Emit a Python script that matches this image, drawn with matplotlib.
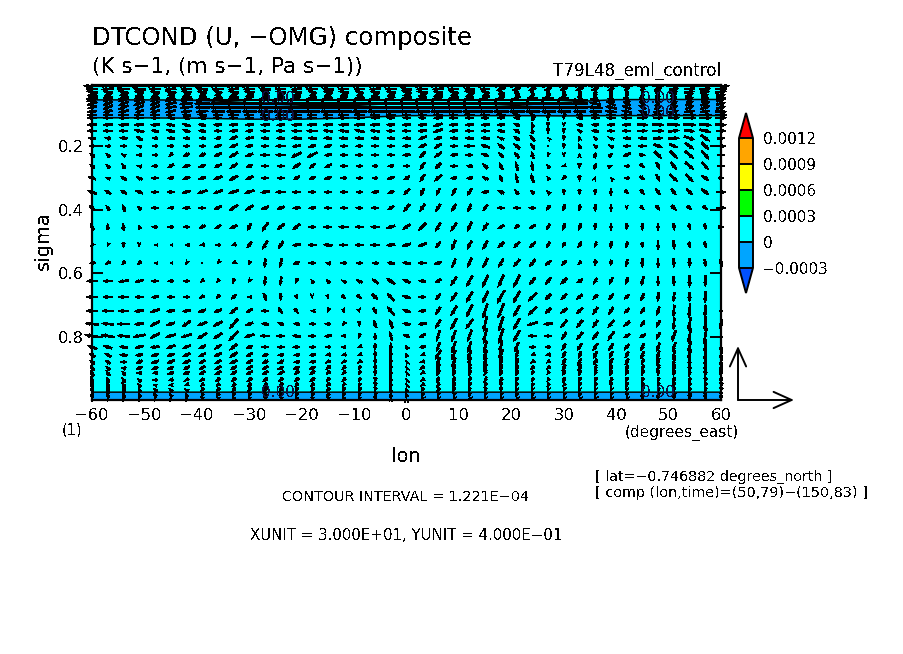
import numpy as np
import matplotlib
matplotlib.use("Agg")
import matplotlib.pyplot as plt
from matplotlib.colors import ListedColormap, BoundaryNorm

plt.rcParams['text.antialiased'] = False
plt.rcParams['font.family'] = ['DejaVu Sans']

W_PX, H_PX = 904, 654
LEFT, RIGHT, TOP, BOTTOM = 92, 721, 85, 400
XUNIT, YUNIT = 30.0, 0.4

lon = list(range(-60, 61, 3))
sigma = [.009,.019,.028,.038,.047,.054,.065,.077,.090,.101,.110,.132,.151,.174,.199,.227,.262,.300,.344,.394,
         .454,.511,.568,.625,.675,.719,.760,.798,.833,.858,.880,.899,.915,.937,.953,.968,.984,.997]

# vector components (1 unit = XUNIT/56 m/s, YUNIT/54 Pa/s)
U = [
[-14,-15,-15,-16,-16,-15,-16,-16,-16,-15,-16,-16,-15,-16,-16,-16,-16,-16,-15,-16,-16,-16,-16,-16,-15,-16,-15,-15,-14,-14,-13,-12,-12,-11,-10,-9,10,12,13,13,14],
[-10,-10,-10,-10,-9,-9,-9,-9,-9,-9,-9,-9,-9,-9,-9,-9,-9,-9,-9,-9,-9,-9,-9,-9,-8,-8,-7,-7,-6,-6,-6,-6,-6,-5,-4,-3,6,8,9,9,10],
[-9,-8,-9,-8,-8,-9,-8,-8,-7,-8,-8,-7,-8,-8,-7,-8,-8,-7,-8,-8,-8,-9,-8,-8,-8,-7,-6,-4,-3,-3,-3,-2,-2,-2,-2,-2,4,7,8,8,9],
[-8,-6,-7,-6,-5,-6,-6,-5,-5,-6,-6,-5,-6,-6,-5,-6,-6,-5,-6,-6,-6,-6,-7,-6,-6,-5,-4,-3,-2,-2,-2,-2,-2,-2,-1,-1,3,5,6,6,8],
[-9,-8,-8,-8,-7,-7,-8,-7,-7,-8,-7,-8,-7,-7,-8,-7,-7,-8,-8,-7,-8,-7,-8,-8,-7,-7,-6,-6,-9,-9,-8,-4,-3,-2,-2,-2,4,5,6,6,8],
[-9,-8,-9,-8,-8,-9,-10,-12,-13,-13,-14,-14,-15,-15,-14,-15,-15,-14,-15,-15,-14,-15,-15,-14,-14,-15,-15,-14,-14,-15,-14,-14,-8,-6,-5,-5,3,5,5,6,7],
[-8,-8,-8,-9,-8,-9,-11,-13,-14,-15,-15,-14,-15,-16,-15,-16,-15,-15,-16,-15,-15,-16,-15,-15,-16,-15,-16,-16,-15,-15,-14,-13,-9,-7,-6,-5,5,6,6,7,8],
[-7,-8,-8,-7,-8,-9,-10,-12,-14,-15,-15,-16,-16,-16,-15,-16,-16,-16,-16,-15,-15,-16,-16,-15,-14,-15,-15,-16,-16,-15,-14,-14,-12,-9,-7,-6,6,7,7,8,8],
[-8,-7,-8,-7,-8,-8,-9,-10,-11,-12,-12,-13,-13,-14,-13,-13,-14,-13,-13,-14,-14,-13,-13,-14,-13,-13,-13,-13,-12,-12,-11,-11,-10,-9,-8,-7,7,8,8,8,9],
[-8,-8,-8,-8,-7,-7,-7,-7,-8,-8,-8,-8,-8,-8,-8,-8,-9,-8,-8,-8,-7,-7,-7,-7,-8,-8,-7,-6,-4,-2,-2,-5,-6,-7,-8,8,9,10,10,10,10],
[-8,-8,-8,-8,-7,-6,-5,-6,-7,-7,-7,-7,-8,-8,-8,-8,-8,-8,-7,-7,-6,-6,-7,-7,-7,-6,-6,-5,-1,0,0,-5,-7,-7,-8,8,8,9,10,10,9],
[-8,-8,-8,-8,-7,-7,-7,-6,-7,-7,-7,-7,-7,-8,-8,-8,-8,-9,-8,-7,-7,-7,-7,-7,-7,-7,-6,-5,-1,0,0,-5,-6,-6,-7,9,10,10,10,10,9],
[-8,-8,-7,-8,-6,-7,-6,-6,-6,-6,-6,-7,-7,-8,-9,-8,-8,-8,-8,-7,-7,-7,-8,-7,-7,-7,-6,-5,-1,0,0,-4,-6,-6,-7,8,9,9,9,9,8],
[-6,-5,-6,-5,-4,-6,-5,-5,-5,-6,-7,-6,-7,-8,-7,-7,-7,-7,-6,-6,-6,-7,-6,-6,-7,-7,-5,-5,-4,-1,0,-1,-3,-5,-6,-7,8,9,9,7,6],
[-5,-4,-5,-4,-4,-5,-5,-5,-6,-7,-6,-6,-8,-7,-6,-6,-6,-6,-6,-6,-6,-6,-6,-6,-8,-7,-5,-5,-3,0,0,-2,-3,-4,-6,-7,7,7,7,6,8],
[-4,-3,-3,-4,-4,-3,-5,-5,-6,-7,-6,-7,-8,-8,-8,-6,-6,-6,-6,-6,-6,-5,-6,-6,-6,-6,-4,-4,-2,-1,0,0,1,3,-6,5,6,6,7,6,6],
[-4,-3,-3,-4,-5,-5,-6,-6,-6,-6,-5,-6,-6,-6,-5,-6,-6,-5,-5,-5,-5,-4,-5,-6,-5,-4,-3,-2,-1,-3,-3,0,2,2,-4,4,3,5,7,5,6],
[-6,-4,-5,-5,-6,-5,-6,-6,-7,-7,-6,-6,-6,-5,-5,-6,-5,-5,-5,-6,-5,-4,-6,-5,-5,-5,-2,-2,-2,-2,-3,0,1,-1,-4,4,3,6,6,6,5],
[-7,-5,-5,-6,-6,-6,-7,-8,-8,-8,-8,-7,-8,-7,-6,-6,-6,-5,-6,-5,-5,-3,-3,-3,-4,-6,-5,-3,-3,-2,0,0,0,0,3,3,4,4,5,6,8],
[-5,-3,-2,-3,-6,-5,-6,-6,-6,-7,-6,-6,-6,-6,-6,-6,-6,-6,-6,-5,-5,-4,-4,-4,-3,-4,-6,-6,-6,-3,-2,-1,0,0,0,3,3,4,4,4,8],
[-3,0,-1,-2,-5,-5,-5,-5,-5,-6,-3,-5,-6,-6,-6,-7,-8,-7,-7,-7,-6,-6,-4,-5,-4,-4,-5,-4,-5,-3,-2,-2,0,0,0,0,0,1,1,1,4],
[-2,-1,0,0,-1,-1,-2,-4,-4,-4,-4,-4,-4,-7,-7,-7,-7,-7,-7,-7,-7,-7,-4,-3,-4,-4,-5,-5,-5,-3,-2,-3,-2,-1,-1,0,0,1,1,1,0],
[-5,-4,-3,-3,-1,-1,-1,0,-1,-2,-2,-1,-2,-5,-6,-4,-5,-5,-5,-6,-7,-7,-6,-3,-4,-4,-4,-5,-5,-5,-4,-3,-1,-1,-1,0,0,0,0,1,2],
[-9,-8,-8,-7,-6,-5,-5,-3,-2,-1,-1,-1,-1,-2,-2,-3,-4,-5,-5,-7,-6,-6,-5,-5,-5,-5,-5,-5,-5,-5,-5,-5,-3,-3,-2,-2,0,0,0,0,0],
[-9,-8,-8,-7,-6,-6,-5,-4,-3,-4,-3,2,0,1,0,1,3,4,5,-6,-7,-6,-4,-5,-5,-5,-6,-6,-7,-5,-5,-5,-4,-4,-4,-3,-1,-1,0,0,0],
[-10,-9,-8,-8,-8,-7,-7,-6,-6,-6,-5,-6,3,3,-2,-1,1,1,3,-6,-6,-6,-4,-5,-5,-4,-5,-5,-7,-5,-5,-5,-4,-4,-4,-3,-2,-1,-1,-1,0],
[-11,-10,-10,-8,-8,-7,-7,-8,-7,-7,-6,-6,-5,-5,-5,-5,-2,0,-2,-3,-6,-7,-4,-5,-6,-3,-4,-5,-9,-7,-5,-5,-4,-5,-5,-3,-3,-1,-2,-1,-2],
[-12,-11,-10,-10,-8,-8,-9,-8,-7,-8,-8,-8,-7,-7,-6,-6,-4,-1,-1,-2,-5,-5,-3,-3,-4,-3,-4,-5,-7,-6,-4,-5,-5,-5,-5,-5,-3,-3,-2,-2,0],
[-8,-7,-7,-7,-7,-7,-7,-6,-6,-6,-5,-6,-6,-6,-5,-4,-4,-3,-1,0,-2,-5,-3,-3,-3,-3,-2,-3,-5,-5,-3,-4,-4,-4,-4,-3,-3,-3,-2,-1,0],
[-5,-5,-6,-6,-6,-6,-6,-6,-6,-6,-5,-5,-5,-5,-5,-4,-4,-3,-1,0,-1,-3,-5,-3,-3,-3,-3,-2,-2,-4,-3,-2,-3,-3,-3,-3,-2,-2,-2,-1,-1],
[-4,-4,-5,-5,-6,-6,-6,-5,-5,-6,-5,-5,-5,-5,-5,-4,-4,-3,-1,0,-1,-4,-3,-3,-2,-2,-2,-2,-3,-3,-3,-3,-3,-3,-3,-2,-2,-2,-1,-1,-1],
[-3,-3,-4,-5,-5,-5,-5,-5,-5,-5,-5,-5,-5,-5,-5,-4,-3,-2,-1,0,-1,-4,-3,-2,-2,-2,-2,-2,-3,-3,-3,-3,-2,-2,-2,-2,-2,-1,-1,-1,-1],
[-3,-3,-3,-4,-4,-5,-5,-5,-5,-5,-5,-5,-5,-4,-4,-3,-3,-2,-1,0,-1,-3,-3,-2,-2,-2,-2,-2,-2,-2,-2,-2,-2,-2,-2,-2,-1,-1,-1,-1,-1],
[-2,-2,-3,-3,-4,-4,-4,-4,-4,-4,-4,-4,-4,-4,-4,-3,-3,-2,-1,0,-1,-3,-2,-2,-2,-2,-2,-2,-2,-2,-2,-2,-2,-2,-2,-1,-1,-1,-1,-1,-1],
[-2,-2,-3,-3,-3,-3,-3,-3,-3,-3,-3,-3,-3,-3,-3,-3,-2,-2,-1,0,-1,-3,-2,-2,-2,-2,-1,-1,-2,-2,-2,-2,-2,-1,-1,-1,-1,-1,-1,-1,-1],
[-1,-2,-2,-2,-3,-3,-3,-3,-3,-3,-3,-3,-3,-2,-2,-2,-2,-2,-1,0,-1,-2,-2,-1,-1,-1,-1,-1,-1,-1,-1,-1,-1,-1,-1,-1,-1,-1,-1,-1,-1],
[-1,-1,-2,-2,-2,-2,-2,-2,-2,-2,-2,-2,-2,-2,-2,-2,-1,-1,-1,0,-1,-2,-1,-1,-1,-1,-1,-1,-1,-1,-1,-1,-1,-1,-1,-1,-1,-1,-1,0,0],
[-1,-1,-1,-1,-1,-1,-1,-1,-1,-1,-1,-1,-1,-1,-1,-1,-1,-1,0,0,0,-1,-1,-1,-1,-1,-1,-1,-1,-1,-1,-1,-1,-1,-1,0,0,0,0,0,0],
]
W = [
[0,0,0,0,0,0,0,0,0,0,0,0,0,0,0,0,0,0,0,0,0,0,0,0,0,0,0,0,0,0,0,0,0,0,0,0,0,0,0,0,0],
[0,-1,0,1,0,-1,0,1,0,-1,0,1,0,-1,0,1,0,0,-1,0,1,0,-1,0,1,0,-2,-2,-2,-2,-2,-2,-2,-2,-2,-2,2,1,0,1,0],
[1,1,2,1,1,2,1,1,2,1,1,2,1,1,2,1,1,2,1,1,2,1,1,2,1,2,3,5,6,6,6,6,5,5,6,6,3,1,1,1,1],
[-1,-2,-1,-2,-2,-1,-2,-2,-1,-2,-2,-1,-2,-2,-1,-2,-2,-1,-2,-2,-1,-2,-2,-1,-2,-2,3,5,6,6,6,6,6,6,6,6,4,2,2,1,1],
[-2,-1,-2,-1,-1,-2,-1,-2,-1,-1,-2,-1,-1,-2,-1,-1,-2,-1,-1,-2,-1,-1,-2,-1,-1,-2,-2,-2,0,0,0,3,3,4,4,4,3,2,1,1,0],
[-3,-2,-3,-2,-3,-2,-1,-1,0,0,0,0,0,0,0,0,0,0,0,0,0,0,0,0,0,0,0,0,0,0,0,0,2,3,4,4,5,4,4,3,2],
[-3,-3,-3,-3,-3,-2,-1,0,0,0,0,0,0,0,0,0,0,0,0,0,0,0,0,0,0,0,0,0,0,0,0,0,2,3,3,3,4,4,3,3,2],
[-2,-3,-3,-3,-3,-2,-1,0,0,0,0,0,0,0,0,0,0,0,0,0,0,0,0,0,1,1,0,0,0,0,0,0,1,2,3,3,3,3,3,3,2],
[-1,-2,-2,-2,-2,-2,-1,-1,0,0,0,0,0,0,0,0,0,0,0,0,0,0,0,0,0,0,0,0,0,0,0,0,0,1,2,2,2,2,1,1,0],
[0,0,0,0,0,0,1,1,0,0,0,0,0,0,0,0,0,0,0,0,0,0,0,0,0,0,1,2,4,-3,-3,1,0,0,0,0,0,0,0,0,0],
[0,0,0,0,0,1,2,1,0,0,0,0,0,0,0,0,0,0,0,0,0,0,-1,0,0,0,0,1,4,-4,-3,1,0,0,0,0,0,0,0,0,0],
[0,0,0,0,0,1,2,1,0,0,0,0,-1,0,0,0,0,0,0,0,0,-1,-2,0,0,0,0,2,4,-4,-3,1,0,0,0,0,0,0,0,-1,0],
[0,0,0,2,1,2,2,1,0,-1,-1,0,0,0,0,1,1,2,1,0,0,-1,-3,-1,0,0,1,3,5,-4,-4,2,1,0,0,0,0,1,-1,-2,0],
[0,1,1,3,0,0,0,0,-1,-3,-1,0,0,0,0,0,0,0,0,0,0,-3,-2,0,0,1,2,3,5,1,-4,3,3,2,0,0,0,0,-3,-5,0],
[0,0,0,1,0,0,0,0,-2,-3,-1,0,0,-1,-2,-2,0,0,0,0,0,-3,-4,0,0,2,4,4,5,0,-4,4,3,2,0,0,-3,-3,-5,-6,0],
[3,3,2,0,0,-3,-2,-2,-3,-4,-2,0,0,-4,-4,-1,0,0,0,0,-1,-5,-4,-1,0,2,4,5,6,-3,-3,3,5,3,-3,-1,-6,-6,-6,-7,0],
[3,3,4,1,0,-3,-2,-2,-3,-4,-2,0,0,-4,-4,-3,0,0,0,-1,0,-6,-5,0,1,4,6,7,7,3,-1,-4,5,1,0,-3,-6,-6,-6,-6,0],
[2,1,3,2,0,-1,-2,-2,-3,-4,-3,0,0,-3,-2,-2,0,0,0,-2,-3,-6,-5,-1,-1,2,5,7,7,3,-3,-5,3,1,0,-3,-6,-6,-6,-4,0],
[3,3,3,2,0,0,-2,-3,-3,-3,-3,-1,0,0,0,0,0,0,-1,-2,-5,-6,-6,-6,-6,-1,2,4,3,2,-5,-5,-5,-6,-3,-4,-5,-5,-5,-5,0],
[4,4,6,3,0,-1,-1,0,-3,-5,-4,-2,-2,-1,-1,0,0,0,0,-3,-6,-6,-6,-6,-6,-5,0,0,0,-4,-5,-5,-6,-6,-3,-3,-4,-4,-3,-3,0],
[5,5,6,3,0,0,0,-2,-3,-3,-6,-7,-5,-5,0,0,0,0,0,-2,-4,-6,-7,-7,-8,-6,-3,-3,-3,-5,-6,-6,-5,-6,-5,-6,-6,-6,-5,-5,0],
[-2,-3,-5,-3,0,0,0,-1,0,-1,-5,-7,-6,-1,0,1,0,0,0,-1,-2,-3,-5,-8,-7,-7,-5,-5,-5,-5,-4,-5,-5,-6,-5,-5,-8,-7,-5,-5,0],
[-1,-2,-3,-3,0,0,-2,0,-1,-1,-3,-7,-7,-2,0,1,0,0,1,1,1,0,-2,-7,-8,-8,-7,-6,-6,-4,-4,-3,-5,-5,-6,-7,-8,-7,-7,-6,-6],
[0,0,-1,-2,0,0,0,-2,-3,-4,-2,-7,-7,-4,3,3,2,2,4,5,3,1,-3,-7,-9,-10,-10,-10,-6,-6,-5,-3,-5,-6,-6,-8,-8,-8,-10,-9,0],
[0,0,0,0,-1,0,0,-2,-3,-4,0,-6,-6,-3,-2,-3,-3,-3,-5,6,2,0,-5,-7,-9,-10,-11,-10,-7,-5,-5,-4,-4,-5,-4,-6,-7,-8,-8,-10,0],
[0,0,0,-1,-3,-1,-1,-2,-2,-5,-3,0,-5,-4,0,-2,-3,-3,-5,7,2,-1,-6,-8,-10,-12,-12,-9,-7,-5,-4,-5,-6,-6,-4,-5,-7,-10,-12,-10,-6],
[1,1,0,-1,-4,-2,-5,-3,-4,-8,-2,1,2,1,0,0,-3,-4,6,7,1,-1,-7,-9,-8,-13,-12,-9,-3,-1,-6,-6,-6,-6,-4,-5,-6,-10,-11,-12,-8],
[2,2,1,-2,-4,-2,-3,-5,-5,-8,-3,0,0,1,0,-1,0,-4,5,7,2,-3,-9,-9,-10,-12,-12,-9,0,0,-6,-6,-6,-7,-3,-3,-6,-9,-12,-13,-8],
[3,2,1,-2,-1,-3,-3,-3,-4,-5,-2,0,0,0,0,0,0,-1,-5,7,3,-1,-8,-9,-9,-10,-11,-8,0,0,-5,-6,-6,-6,-5,-6,-7,-8,-10,-11,-8],
[3,3,1,-1,-2,-2,-3,-3,-3,-4,-3,-2,-1,-1,-1,-1,-1,-1,-5,8,3,-1,-8,-8,-8,-8,-9,-7,-1,-1,-5,-6,-6,-6,-5,-6,-7,-8,-9,-10,-8],
[3,3,0,-2,-2,-3,-3,-3,-3,-3,-3,-2,-2,-1,-1,-2,-2,-2,-5,8,2,-1,-7,-7,-7,-7,-7,-6,-2,-2,-5,-6,-5,-6,-5,-5,-6,-7,-8,-8,-8],
[4,3,1,-2,-2,-2,-3,-3,-3,-3,-3,-3,-2,-2,-2,-3,-3,-3,-5,8,2,-2,-6,-6,-6,-6,-6,-5,-3,-3,-5,-5,-5,-5,-5,-5,-5,-6,-7,-7,-7],
[5,4,3,0,-1,-2,-2,-3,-3,-3,-3,-3,-3,-3,-3,-3,-3,-3,-5,7,2,-2,-5,-5,-5,-5,-5,-5,-3,-3,-4,-5,-5,-5,-4,-5,-5,-5,-6,-6,-6],
[6,5,4,2,0,-1,-2,-2,-3,-3,-3,-3,-3,-3,-3,-3,-3,-3,-4,7,2,-2,-5,-5,-5,-5,-4,-4,-3,-3,-4,-4,-4,-4,-4,-4,-4,-5,-5,-5,-5],
[6,6,5,3,1,0,-1,-2,-2,-3,-3,-3,-3,-3,-3,-3,-3,-3,-4,6,2,-2,-4,-4,-4,-4,-4,-4,-3,-3,-3,-4,-4,-4,-4,-4,-4,-4,-4,-4,-4],
[6,6,5,4,3,3,2,-3,-3,-4,-4,-4,-4,-4,-4,-4,-4,-4,-4,5,3,-3,-4,-4,-4,-4,-4,-3,-3,-3,-3,-3,-3,-3,-3,-3,-4,-4,-4,-4,-4],
[5,5,5,4,4,3,3,-4,-4,-4,-4,-4,-4,-4,-4,-4,-4,-4,-4,5,3,-3,-3,-3,-3,-3,-3,-3,-3,-3,-3,-3,-3,-3,-3,-3,-3,-3,-3,-3,-3],
[3,3,3,3,3,3,3,-3,-3,-3,-3,-3,-3,-3,-3,-3,-3,-3,-3,3,2,-2,-2,-2,-2,-2,-2,-2,-2,-2,-2,-2,-2,-2,-2,-2,-2,-2,-2,-2,-2],
]

# shaded DTCOND field (units of 1e-4 K/s) on a coarse lon / sigma grid
f_lon = [-60,-50,-40,-30,-20,-10,0,10,20,30,40,50,60]
f_sigma = [.006,.038,.047,.057,.066,.076,.085,.098,.107,.113,.125,.95,.972,.978,.99,1.0]
f_val = [
[1,1,1,1,1,1,1,1,1,1,1,1,1],
[1,1,1,1,1,1,1,1,1,1,1,1,1],
[.5,.5,.5,.5,.5,.5,.5,.5,.5,.5,.5,.5,.5],
[-.3,-.3,-.2,.3,.4,.4,.4,.4,.4,.3,-.4,-.5,-.5],
[-.5,-.5,-.4,-.2,.3,.3,.3,.3,.3,-.3,-.5,-.5,-.5],
[-1,-1,-1,-.6,-.4,-.3,.2,.2,-.2,-.5,-1,-1,-1],
[-1,-1,-1,-1,-1,-1,-1,-1,-1,-1,-1,-1,-1],
[-1,-1,-1,-1,-1,-1,-.6,-.6,-.6,-.7,-.6,-.6,-.6],
[-.3,-.3,-.4,-.5,-.5,-.3,.5,.5,.5,.4,.5,.5,.5],
[.4,.3,.2,-.1,-.1,.3,.8,.8,.8,.8,.8,.8,.8],
[1,1,1,1,1,1,1,1,1,1,1,1,1],
[1,1,1,1,1,1,1,1,1,1,1,1,1],
[.6,.6,.6,.6,.6,.6,.6,.6,.6,.6,.6,.6,.6],
[-.5,-.5,-.5,-.5,-.5,-.5,-.5,-.5,-.5,-.5,-.5,-.5,-.5],
[-1,-1,-1,-1,-1,-1,-1,-1,-1,-1,-1,-1,-1],
[-1,-1,-1,-1,-1,-1,-1,-1,-1,-1,-1,-1,-1],
]
levels = [-3, 0, 3, 6, 9, 12]
level_labels = ['-0.0003', '0', '0.0003', '0.0006', '0.0009', '0.0012']
x_ticks = list(range(-60, 61, 10))
y_ticks = [0.2, 0.4, 0.6, 0.8]
label_spots = [(-24.5, .050), (-24.5, .107), (48, .050), (48, .092), (-24.5, .975), (48, .975)]

def box(l, t, r, b):
    return [l / W_PX, 1 - b / H_PX, (r - l) / W_PX, (b - t) / H_PX]

def ftext(px, py, s, size, **kw):
    kw.setdefault('va', 'center')
    fig.text(px / W_PX, 1 - py / H_PX, s, fontsize=size, color='black', **kw)

fig = plt.figure(figsize=(W_PX / 100, H_PX / 100), dpi=100, facecolor='white')
ax = fig.add_axes(box(LEFT, TOP, RIGHT, BOTTOM))

cmap = ListedColormap(['#00A5FF', '#00FFFF', '#00FF00', '#FFFF00', '#FFA500'])
cmap.set_under('#0050FF')
cmap.set_over('#FF0000')
norm = BoundaryNorm(levels, cmap.N)
cf = ax.contourf(f_lon, f_sigma, f_val, levels=levels, cmap=cmap, norm=norm, extend='both', antialiased=False)
ax.contour(f_lon, f_sigma, f_val, levels=[0], colors='black', linewidths=1.1)

LON, SIG = np.meshgrid(lon, sigma)
ax.quiver(LON, SIG, np.array(U, float), np.array(W, float), angles='uv', scale_units='dots', scale=0.85,
          units='dots', width=1.7, headwidth=1.9, headlength=2.6, headaxislength=2.3, minshaft=0.4, minlength=0.4,
          pivot='mid', color='black', clip_on=False, zorder=3, antialiased=False)

for x, y in label_spots:
    ax.text(x, y, '0.00', fontsize=11, ha='center', va='center', color='#101040', zorder=4)

ax.set_xlim(-60, 60)
ax.set_ylim(1.0, 0.0063)
ax.set_xticks(x_ticks)
ax.set_xticklabels([str(v).replace('-', '\u2212') for v in x_ticks], fontsize=11.8)
ax.set_yticks(y_ticks)
ax.set_yticklabels([str(v) for v in y_ticks], fontsize=11.8)
ax.tick_params(axis='x', length=0, pad=6)
ax.tick_params(axis='y', direction='in', length=8, width=1.4, left=True, right=True, pad=6)
for s in ax.spines.values():
    s.set_linewidth(1.6)

cax = fig.add_axes(box(739, 113, 753, 293))
cb = fig.colorbar(cf, cax=cax, extend='both', extendfrac=25 / 129, drawedges=True, spacing='uniform')
cb.set_ticks(levels)
cb.set_ticklabels([s.replace('-', '\u2212') for s in level_labels], fontsize=11)
cb.ax.tick_params(length=0, pad=7)
cb.outline.set_linewidth(1.4)
cb.dividers.set_linewidth(1.4)

# reference vector, lengths are one XUNIT and one YUNIT
for dx, dy in [(56, 0), (0, 54)]:
    ax.annotate('', xy=(738 + dx, H_PX - 400 + dy), xytext=(738, H_PX - 400),
                xycoords='figure pixels', textcoords='figure pixels', annotation_clip=False,
                arrowprops=dict(arrowstyle='->,head_length=1.0,head_width=0.45', lw=1.4, color='black',
                                shrinkA=0, shrinkB=0, mutation_scale=13))

ftext(92, 38, 'DTCOND (U, \u2212OMG) composite', 17.6)
ftext(92, 67, '(K s\u22121, (m s\u22121, Pa s\u22121))', 15.5)
ftext(721, 71, 'T79L48_eml_control', 12.1, ha='right')
ftext(43, 241, 'sigma', 14, rotation=90, ha='center')
ftext(62, 430, '(1)', 10.5)
ftext(406, 457, 'lon', 14, ha='center')
ftext(625, 433, '(degrees_east)', 11)
ftext(595, 477, '[ lat=\u22120.746882 degrees_north ]', 10.3)
ftext(595, 493, '[ comp (lon,time)=(50,79)\u2212(150,83) ]', 10.4)
ftext(406, 497, 'CONTOUR INTERVAL = 1.221E\u221204', 10.4, ha='center')
ftext(406, 535, 'XUNIT = 3.000E+01, YUNIT = 4.000E\u221201', 10.8, ha='center')

fig.savefig('out.png', dpi=100, facecolor='white')
